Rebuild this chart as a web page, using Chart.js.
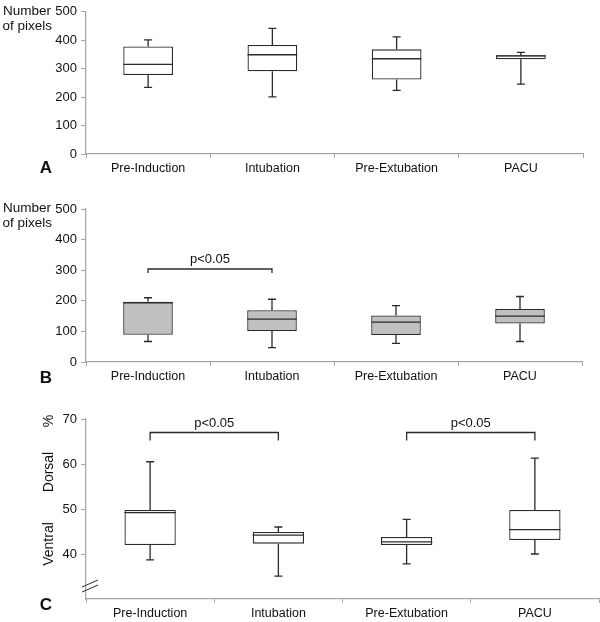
<!DOCTYPE html>
<html>
<head>
    <title>Number of pixels and ventral/dorsal distribution</title>
    <script src="https://cdn.jsdelivr.net/npm/chart.js"></script>
    <style>
        body { margin: 0; background: #fff; }
        .panel { position: absolute; left: 0; width: 600px; }
    </style>
</head>
<body>
    <div class="panel" style="top:0px;height:182px"><canvas id="chartA"></canvas></div>
    <div class="panel" style="top:190px;height:200px"><canvas id="chartB"></canvas></div>
    <div class="panel" style="top:400px;height:222px"><canvas id="chartC"></canvas></div>

    <script>
        const categories = ['Pre-Induction', 'Intubation', 'Pre-Extubation', 'PACU'];

        // Panel A - number of pixels
        const aLow    = [234, 201, 224, 246];
        const aQ1     = [278, 291, 262, 333];
        const aMedian = [315, 349, 335, 345];
        const aQ3     = [378, 383, 368, 347];
        const aHigh   = [401, 442, 412, 357];

        // Panel B - number of pixels
        const bLow    = [67, 47, 61, 67];
        const bQ1     = [89, 101, 88, 126];
        const bMedian = [193, 140, 130, 150];
        const bQ3     = [197, 169, 152, 173];
        const bHigh   = [210, 205, 184, 214];

        // Panel C - percent
        const cLow    = [38.7, 35.1, 37.8, 40.0];
        const cQ1     = [42.0, 42.3, 42.0, 43.1];
        const cMedian = [49.2, 44.2, 42.7, 45.4];
        const cQ3     = [49.8, 44.9, 43.8, 49.8];
        const cHigh   = [60.5, 46.0, 47.7, 61.3];

        // significance brackets (category index from/to, height in axis units)
        const bBracketFrom = [0];
        const bBracketTo   = [1];
        const bBracketY    = [304];
        const cBracketFrom = [0, 2];
        const cBracketTo   = [1, 3];
        const cBracketY    = [67, 67];
        const pLabel = 'p<0.05';

        const FONT = "'Liberation Sans', Arial, sans-serif";
        const INK = '#2b2b2b';
        const AXIS = '#a6a6a6';

        // draws whiskers, medians, brackets and panel texts
        function boxExtras(s) {
            return {
                id: 'boxExtras',
                afterDatasetsDraw(chart) {
                    const ctx = chart.ctx;
                    const x = chart.scales.x, y = chart.scales.y;
                    const bars = chart.getDatasetMeta(0).data;
                    const area = chart.chartArea;
                    ctx.save();
                    ctx.strokeStyle = INK;
                    ctx.lineWidth = 1.3;
                    bars.forEach((bar, i) => {
                        const cx = bar.x, half = bar.width / 2;
                        const yLo = y.getPixelForValue(s.low[i]);
                        const yHi = y.getPixelForValue(s.high[i]);
                        const yQ1 = y.getPixelForValue(s.q1[i]);
                        const yQ3 = y.getPixelForValue(s.q3[i]);
                        const yMed = y.getPixelForValue(s.median[i]);
                        ctx.beginPath();
                        ctx.moveTo(cx, yQ3); ctx.lineTo(cx, yHi);
                        ctx.moveTo(cx - 4, yHi); ctx.lineTo(cx + 4, yHi);
                        ctx.moveTo(cx, yQ1); ctx.lineTo(cx, yLo);
                        ctx.moveTo(cx - 4, yLo); ctx.lineTo(cx + 4, yLo);
                        ctx.moveTo(cx - half, yMed); ctx.lineTo(cx + half, yMed);
                        ctx.stroke();
                    });

                    // brackets
                    ctx.fillStyle = '#111';
                    ctx.font = '13px ' + FONT;
                    ctx.textAlign = 'center';
                    ctx.textBaseline = 'bottom';
                    s.bFrom.forEach((f, k) => {
                        const x1 = x.getPixelForValue(f), x2 = x.getPixelForValue(s.bTo[k]);
                        const by = y.getPixelForValue(s.bY[k]);
                        ctx.beginPath();
                        ctx.moveTo(x1, by + s.drop); ctx.lineTo(x1, by);
                        ctx.lineTo(x2, by); ctx.lineTo(x2, by + s.drop);
                        ctx.stroke();
                        ctx.fillText(pLabel, (x1 + x2) / 2, by - 3);
                    });

                    // panel letter
                    ctx.font = 'bold 17px ' + FONT;
                    ctx.textBaseline = 'middle';
                    ctx.fillText(s.letter, 46, area.bottom + s.letterDy);

                    // y axis title
                    ctx.font = '13.5px ' + FONT;
                    if (s.rotTitle) {
                        s.rotTitle.forEach(t => {
                            ctx.save();
                            ctx.translate(49, t[1]);
                            ctx.rotate(-Math.PI / 2);
                            ctx.font = '14px ' + FONT;
                            ctx.textAlign = 'center';
                            ctx.fillText(t[0], 0, 0);
                            ctx.restore();
                        });
                        // axis break
                        ctx.strokeStyle = INK;
                        ctx.lineWidth = 1;
                        ctx.beginPath();
                        ctx.moveTo(82, area.bottom - 12); ctx.lineTo(98, area.bottom - 19);
                        ctx.moveTo(82, area.bottom - 7); ctx.lineTo(98, area.bottom - 14);
                        ctx.stroke();
                    } else {
                        ctx.textAlign = 'right';
                        ctx.fillText('Number', 51, area.top - 1);
                        ctx.fillText('of pixels', 52, area.top + 14);
                    }
                    ctx.restore();
                }
            };
        }

        function boxChart(id, s) {
            const ctx = document.getElementById(id).getContext('2d');
            return new Chart(ctx, {
                type: 'bar',
                data: {
                    labels: categories,
                    datasets: [{
                        data: s.q1.map((v, i) => [v, s.q3[i]]),
                        backgroundColor: s.fill,
                        borderColor: INK,
                        borderWidth: 1.3,
                        borderSkipped: false,
                        barPercentage: 0.4,
                        categoryPercentage: 1.0
                    }]
                },
                options: {
                    responsive: true,
                    maintainAspectRatio: false,
                    animation: false,
                    layout: { padding: { top: s.padTop, right: s.padRight, left: 0, bottom: 0 } },
                    plugins: { legend: { display: false }, tooltip: { enabled: false } },
                    scales: {
                        x: {
                            grid: { drawOnChartArea: false, color: AXIS, tickLength: 4, offset: true },
                            border: { color: AXIS, width: 1.3 },
                            ticks: { color: '#111', padding: 3, font: { size: 12.5, family: FONT } },
                            afterFit: sc => { sc.height = s.xHeight; }
                        },
                        y: {
                            min: s.min, max: s.max,
                            grid: {
                                drawOnChartArea: false, tickLength: 5,
                                color: c => (c.tick && c.tick.value === s.hideTick) ? 'rgba(0,0,0,0)' : AXIS
                            },
                            border: { color: AXIS, width: 1.3 },
                            ticks: {
                                stepSize: s.step, color: '#111', padding: 4,
                                font: { size: 13, family: FONT },
                                callback: v => v === s.hideTick ? '' : v
                            },
                            afterFit: sc => { sc.width = 86; }
                        }
                    }
                },
                plugins: [boxExtras(s)]
            });
        }

        boxChart('chartA', {
            low: aLow, q1: aQ1, median: aMedian, q3: aQ3, high: aHigh,
            fill: '#ffffff', min: 0, max: 500, step: 100, hideTick: null,
            padTop: 9, padRight: 17, xHeight: 28,
            bFrom: [], bTo: [], bY: [], drop: 4,
            letter: 'A', letterDy: 14
        });

        boxChart('chartB', {
            low: bLow, q1: bQ1, median: bMedian, q3: bQ3, high: bHigh,
            fill: '#c0c0c0', min: 0, max: 500, step: 100, hideTick: null,
            padTop: 19, padRight: 18, xHeight: 28,
            bFrom: bBracketFrom, bTo: bBracketTo, bY: bBracketY, drop: 4,
            letter: 'B', letterDy: 16
        });

        boxChart('chartC', {
            low: cLow, q1: cQ1, median: cMedian, q3: cQ3, high: cHigh,
            fill: '#ffffff', min: 30, max: 70, step: 10, hideTick: 30,
            padTop: 19, padRight: 1, xHeight: 23,
            bFrom: cBracketFrom, bTo: cBracketTo, bY: cBracketY, drop: 8,
            letter: 'C', letterDy: 6,
            rotTitle: [['%', 21], ['Dorsal', 72], ['Ventral', 144]]
        });
    </script>
</body>
</html>
